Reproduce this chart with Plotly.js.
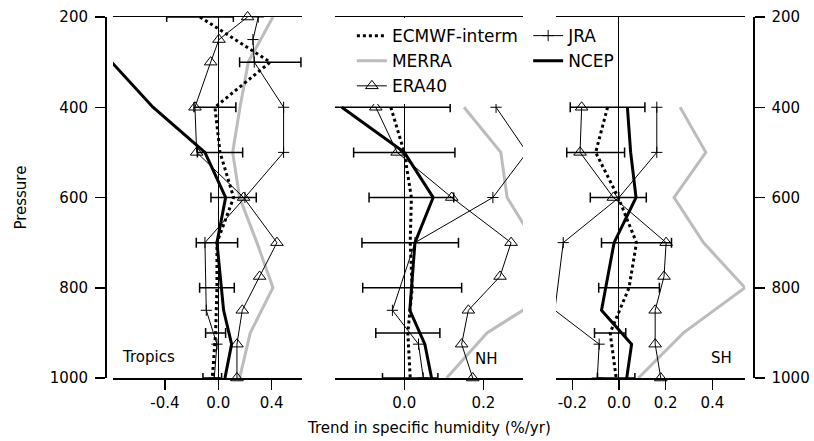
<!DOCTYPE html>
<html>
<head>
<meta charset="utf-8">
<script src="https://cdn.plot.ly/plotly-3.0.1.min.js"></script>
<style>html,body{margin:0;padding:0;background:#fff;}#chart{width:814px;height:441px;}</style>
</head>
<body>
<div id="chart"></div>
<script>
// Pressure levels (hPa)
const p100 = [200, 300, 400, 500, 600, 700, 800, 900, 1000];
const pEra = [200, 250, 300, 400, 500, 600, 700, 775, 850, 925, 1000];
const pJra = [200, 250, 300, 400, 500, 600, 700, 850, 925, 1000];
const pNcep = [300, 400, 500, 600, 700, 850, 925, 1000];
const p100Low = [400, 500, 600, 700, 800, 900, 1000];
const pEraLow = [400, 500, 600, 700, 775, 850, 925, 1000];
const pStdLow = [400, 500, 600, 700, 850, 925, 1000];

// Tropics (%/yr)
const ecmwfTrop = [-0.137, 0.39, -0.025, 0.013, 0.115, -0.01, -0.01, -0.02, -0.045];
const ecmwfTropErr = [0.25, 0.23, 0.157, 0.17, 0.17, 0.155, 0.13, 0.075, 0.07];
const merraTrop = [0.41, 0.225, 0.163, 0.108, 0.16, 0.29, 0.41, 0.24, 0.16];
const era40Trop = [0.22, 0.005, -0.057, -0.175, -0.162, 0.19, 0.44, 0.31, 0.18, 0.14, 0.14];
const jraTrop = [0.30, 0.26, 0.27, 0.49, 0.49, 0.20, -0.10, -0.09, -0.01, -0.03];
const ncepTrop = [-0.80, -0.49, -0.10, 0.055, -0.01, 0.04, 0.10, 0.05];

// NH
const ecmwfNH = [-0.034, 0.0, 0.018, 0.015, 0.02, 0.009, 0.015];
const ecmwfNHErr = [0.15, 0.128, 0.107, 0.122, 0.125, 0.081, 0.07];
const merraNH = [0.151, 0.244, 0.26, 0.33, 0.39, 0.209, 0.107];
const era40NH = [-0.072, -0.018, 0.12, 0.27, 0.242, 0.162, 0.145, 0.173];
const jraNH = [0.232, 0.31, 0.224, 0.027, -0.03, 0.036, 0.048];
const ncepNH = [-0.158, 0.0, 0.073, 0.027, 0.014, 0.052, 0.069];

// SH
const ecmwfSH = [-0.049, -0.10, -0.003, 0.075, 0.043, -0.038, -0.012];
const ecmwfSHErr = [0.16, 0.124, 0.12, 0.15, 0.13, 0.067, 0.08];
const merraSH = [0.262, 0.372, 0.236, 0.362, 0.54, 0.276, 0.083];
const era40SH = [-0.16, -0.167, -0.024, 0.202, 0.193, 0.155, 0.155, 0.179];
const jraSH = [0.162, 0.162, 0.0, -0.239, -0.275, -0.085, -0.093];
const ncepSH = [0.036, 0.05, 0.073, -0.021, -0.075, 0.054, 0.033];

const seriesNames = ['ECMWF-interm', 'MERRA', 'ERA40', 'JRA', 'NCEP'];
const regionLabels = ['Tropics', 'NH', 'SH'];
const pressureTicks = [200, 400, 600, 800, 1000];
const tickValsTrop = [-0.4, 0.0, 0.4], tickTextTrop = ['-0.4', '0.0', '0.4'];
const tickValsNH = [0.0, 0.2], tickTextNH = ['0.0', '0.2'];
const tickValsSH = [-0.2, 0.0, 0.2, 0.4], tickTextSH = ['-0.2', '0.0', '0.2', '0.4'];

const FONT = 'DejaVu Sans, Verdana, sans-serif';
const GRAY = '#bcbcbc';

const panels = [
  {ax: 'x',  ecm: ecmwfTrop, err: ecmwfTropErr, pE: p100, mer: merraTrop, pM: p100, era: era40Trop, pR: pEra, jra: jraTrop, pJ: pJra, ncep: ncepTrop, pN: pNcep},
  {ax: 'x2', ecm: ecmwfNH, err: ecmwfNHErr, pE: p100Low, mer: merraNH, pM: p100Low, era: era40NH, pR: pEraLow, jra: jraNH, pJ: pStdLow, ncep: ncepNH, pN: pStdLow},
  {ax: 'x3', ecm: ecmwfSH, err: ecmwfSHErr, pE: p100Low, mer: merraSH, pM: p100Low, era: era40SH, pR: pEraLow, jra: jraSH, pJ: pStdLow, ncep: ncepSH, pN: pStdLow}
];

const JRA_MARKER = {symbol: 'cross-thin-open', size: 8, color: 'black', line: {width: 1, color: 'black'}};
const ERA_MARKER = {symbol: 'triangle-up-open', size: 11, color: 'black', line: {width: 1}};

const traces = [];
panels.forEach((P) => {
  traces.push({x: P.mer, y: P.pM, xaxis: P.ax, yaxis: 'y', mode: 'lines', name: seriesNames[1],
    line: {color: GRAY, width: 3}, showlegend: false, hoverinfo: 'skip'});
  traces.push({x: P.ecm, y: P.pE, xaxis: P.ax, yaxis: 'y', mode: 'lines', name: seriesNames[0],
    line: {color: 'black', width: 3, dash: 'dot'}, showlegend: false, hoverinfo: 'skip'});
  traces.push({x: P.era, y: P.pR, xaxis: P.ax, yaxis: 'y', mode: 'lines+markers', name: seriesNames[2],
    line: {color: 'black', width: 1}, marker: ERA_MARKER,
    cliponaxis: false, showlegend: false, hoverinfo: 'skip'});
  traces.push({x: P.jra, y: P.pJ, xaxis: P.ax, yaxis: 'y', mode: 'lines+markers', name: seriesNames[3],
    line: {color: 'black', width: 1}, marker: JRA_MARKER,
    cliponaxis: true, showlegend: false, hoverinfo: 'skip'});
  traces.push({x: P.ncep, y: P.pN, xaxis: P.ax, yaxis: 'y', mode: 'lines', name: seriesNames[4],
    line: {color: 'black', width: 3}, showlegend: false, hoverinfo: 'skip'});
  traces.push({x: P.ecm, y: P.pE, xaxis: P.ax, yaxis: 'y', mode: 'markers', name: 'err',
    marker: {size: 1, color: 'rgba(0,0,0,0)'},
    error_x: {type: 'data', array: P.err, visible: true, color: 'black', thickness: 1.5, width: 5},
    cliponaxis: false, showlegend: false, hoverinfo: 'skip'});
});

// legend entries (one per dataset)
const legendTraces = [
  {name: seriesNames[0], line: {color: 'black', width: 3, dash: 'dot'}, mode: 'lines', legend: 'legend'},
  {name: seriesNames[1], line: {color: GRAY, width: 3}, mode: 'lines', legend: 'legend'},
  {name: seriesNames[2], line: {color: 'black', width: 1}, mode: 'lines+markers', marker: ERA_MARKER, legend: 'legend'},
  {name: seriesNames[3], line: {color: 'black', width: 1}, mode: 'lines+markers', marker: JRA_MARKER, legend: 'legend2'},
  {name: seriesNames[4], line: {color: 'black', width: 3}, mode: 'lines', legend: 'legend2'}
];
legendTraces.forEach(t => {
  traces.push(Object.assign({x: [null], y: [null], xaxis: 'x2', yaxis: 'y', showlegend: true, hoverinfo: 'skip'}, t));
});
// right axis carrier
traces.push({x: [null], y: [null], xaxis: 'x3', yaxis: 'y2', mode: 'markers', showlegend: false, hoverinfo: 'skip'});

function xax(domain, range, vals, text) {
  return {domain: domain, range: range, anchor: 'y', tickvals: vals, ticktext: text,
    ticks: 'outside', ticklen: 10, tickwidth: 1.5, tickcolor: 'black',
    showline: true, linecolor: 'black', linewidth: 1.5, mirror: true,
    showgrid: false, zeroline: true, zerolinecolor: 'black', zerolinewidth: 1,
    tickfont: {family: FONT, size: 15, color: 'black'}, fixedrange: true};
}
function yax(extra) {
  return Object.assign({range: [1000, 200], tickvals: pressureTicks, ticks: 'outside', ticklen: 10, tickwidth: 1.5,
    tickcolor: 'black', showline: true, linecolor: 'black', linewidth: 1.5, showgrid: false, zeroline: false,
    tickfont: {family: FONT, size: 15, color: 'black'}, ticklabelstandoff: 4, fixedrange: true}, extra);
}

const LEGEND_FONT = {family: FONT, size: 17, color: 'black'};
const layout = {
  width: 814, height: 441,
  margin: {l: 105, r: 61, t: 17, b: 63},
  paper_bgcolor: 'white', plot_bgcolor: 'rgba(0,0,0,0)',
  font: {family: FONT, size: 15, color: 'black'},
  xaxis: xax([0.0123, 0.304], [-0.79, 0.628], tickValsTrop, tickTextTrop),
  xaxis2: xax([0.355, 0.645], [-0.175, 0.30], tickValsNH, tickTextNH),
  xaxis3: xax([0.696, 0.988], [-0.27, 0.541], tickValsSH, tickTextSH),
  yaxis: yax({anchor: 'free', position: 0}),
  yaxis2: yax({anchor: 'free', position: 1, side: 'right', overlaying: 'y'}),
  showlegend: true,
  legend: {x: 0.381, y: 0.997, xanchor: 'left', yanchor: 'top', bgcolor: 'white', borderwidth: 0,
    font: LEGEND_FONT, tracegroupgap: 0, itemwidth: 30},
  legend2: {x: 0.653, y: 0.997, xanchor: 'left', yanchor: 'top', bgcolor: 'rgba(0,0,0,0)', borderwidth: 0,
    font: LEGEND_FONT, tracegroupgap: 0, itemwidth: 30},
  annotations: [
    {text: 'Pressure', xref: 'paper', yref: 'paper', x: -0.131, y: 0.5, textangle: -90, showarrow: false,
      xanchor: 'center', yanchor: 'middle', font: {family: FONT, size: 15}},
    {text: 'Trend in specific humidity (%/yr)', xref: 'paper', yref: 'paper', x: 0.5, y: -0.1385, showarrow: false,
      xanchor: 'center', yanchor: 'middle', font: {family: FONT, size: 15}},
    {text: regionLabels[0], xref: 'x', yref: 'y', x: -0.52, y: 953, showarrow: false, xanchor: 'center', yanchor: 'middle', font: {family: FONT, size: 15}},
    {text: regionLabels[1], xref: 'x2', yref: 'y', x: 0.209, y: 958, showarrow: false, xanchor: 'center', yanchor: 'middle', font: {family: FONT, size: 15}},
    {text: regionLabels[2], xref: 'x3', yref: 'y', x: 0.438, y: 956, showarrow: false, xanchor: 'center', yanchor: 'middle', font: {family: FONT, size: 15}}
  ]
};

Plotly.newPlot('chart', traces, layout, {staticPlot: true, displayModeBar: false});
</script>
</body>
</html>
